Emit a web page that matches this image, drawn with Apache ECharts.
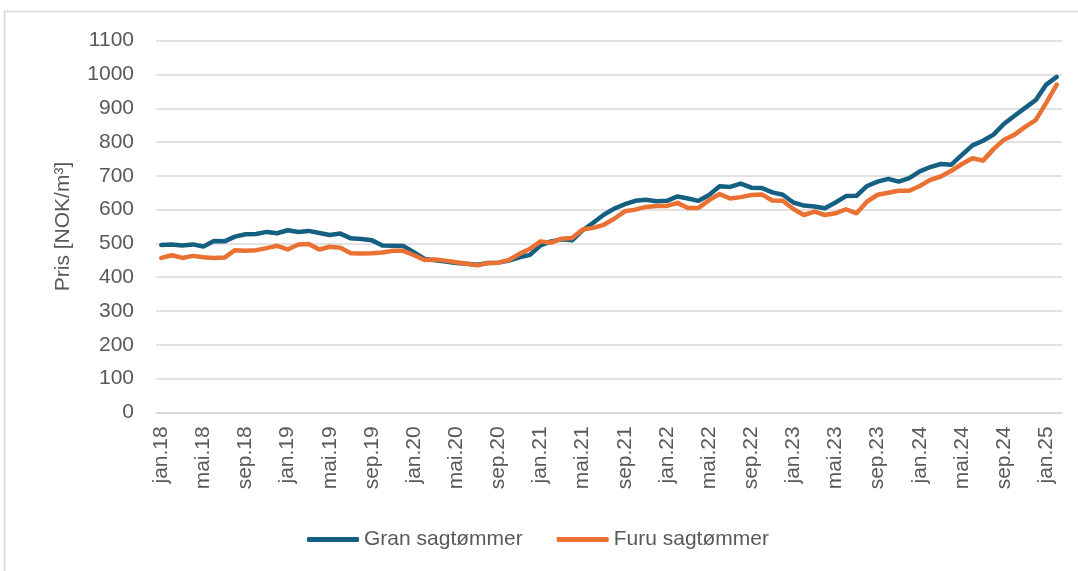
<!DOCTYPE html>
<html>
<head>
<meta charset="utf-8">
<script src="https://cdn.jsdelivr.net/npm/echarts@6/dist/echarts.min.js"></script>
<style>
    html, body { margin: 0; padding: 0; background: #fff; }
    #chart { width: 1078px; height: 571px; }
</style>
</head>
<body>
<div id="chart"></div>
<script>
const monthNames = ["jan", "feb", "mar", "apr", "mai", "jun", "jul", "aug", "sep", "okt", "nov", "des"];
const years = ["18", "19", "20", "21", "22", "23", "24", "25"];

// jan.18 .. feb.25
let months = [];
years.forEach((y) => {
    monthNames.forEach((m) => {
        months.push(`${m}.${y}`);
    });
});
months = months.slice(0, 86);

const gran = [
    495, 497, 494, 497, 491, 507, 506, 520, 527, 528, 534, 530,
    539, 534, 537, 531, 525, 529, 515, 513, 509, 494, 493, 492,
    473, 454, 450, 446, 442, 440, 437, 442, 443, 449, 459, 466,
    494, 506, 512, 509, 539, 561, 585, 603, 616, 626, 629, 625,
    626, 639, 633, 626, 643, 669, 667, 677, 665, 664, 651, 644,
    621, 612, 609, 604, 621, 640, 641, 670, 683, 691, 683, 693,
    713, 726, 735, 733, 762, 790, 804, 822, 854, 878, 901, 924,
    970, 993
];

const furu = [
    457, 465, 457, 463, 459, 457, 458, 480, 478, 480, 486, 493,
    482, 497, 498, 482, 490, 487, 471, 470, 471, 473, 478, 478,
    465, 451, 452, 449, 444, 440, 435, 442, 443, 451, 469, 484,
    506, 502, 514, 516, 541, 546, 555, 573, 595, 600, 608, 611,
    611, 620, 605, 605, 628, 646, 633, 637, 643, 645, 627, 626,
    602, 584, 594, 584, 589, 601, 589, 624, 644, 650, 656, 656,
    670, 688, 698, 715, 735, 752, 745, 779, 807, 822, 845, 865,
    916, 970
];

const font = "'Liberation Sans', Arial, sans-serif";
const textColor = "#595959";
const gridColor = "#d9d9d9";

const lineSeries = (name, data, color) => ({
    name: name,
    type: "line",
    data: data,
    showSymbol: false,
    symbol: "none",
    animation: false,
    itemStyle: { color: color },
    lineStyle: { color: color, width: 4.5, cap: "round", join: "round" },
});

const chart = echarts.init(document.getElementById("chart"), null, { renderer: "canvas" });
chart.setOption({
    backgroundColor: "#fff",
    animation: false,
    textStyle: { fontFamily: font },
    graphic: [
        {
            type: "rect",
            shape: { x: 4.5, y: 11.5, width: 1200, height: 700 },
            style: { fill: "none", stroke: gridColor, lineWidth: 1.5 },
            silent: true,
        },
    ],
    grid: {
        left: 156,
        right: 16,
        top: 40.7,
        bottom: 158.7,
        outerBoundsMode: "none",
    },
    legend: {
        data: ["Gran sagtømmer", "Furu sagtømmer"],
        left: 302,
        top: 524,
        icon: "roundRect",
        itemWidth: 52,
        itemHeight: 5,
        itemGap: 34,
        textStyle: { fontFamily: font, fontSize: 21, color: textColor },
    },
    xAxis: {
        type: "category",
        data: months,
        boundaryGap: true,
        axisLine: { lineStyle: { color: gridColor, width: 1.5 } },
        axisTick: { interval: 3, length: 7, lineStyle: { color: gridColor, width: 1.5 } },
        axisLabel: {
            interval: 3,
            rotate: 90,
            margin: 14,
            fontSize: 21,
            color: textColor,
            fontFamily: font,
        },
    },
    yAxis: {
        type: "value",
        min: 0,
        max: 1100,
        interval: 100,
        name: "Pris [NOK/m³]",
        nameLocation: "middle",
        nameGap: 82,
        nameTextStyle: { fontSize: 21, color: textColor, fontFamily: font },
        axisLine: { show: false },
        axisTick: { show: false },
        axisLabel: {
            margin: 22,
            fontSize: 21,
            color: textColor,
            fontFamily: font,
            formatter: (v) => String(v),
        },
        splitLine: { lineStyle: { color: gridColor, width: 1.5 } },
    },
    series: [
        lineSeries("Gran sagtømmer", gran, "#156082"),
        lineSeries("Furu sagtømmer", furu, "#E97132"),
    ],
});
</script>
</body>
</html>
